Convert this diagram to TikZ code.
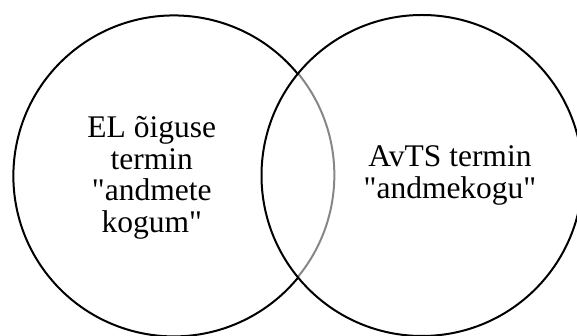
\documentclass[tikz,border=0pt]{standalone}
\usepackage{fontspec}
\setmainfont{Liberation Serif}
\begin{document}
\begin{tikzpicture}[x=1pt,y=1pt,
  setline/.style={line width=2pt},
  setcircle/.style={circle,inner sep=0pt,outer sep=0pt,minimum size=321pt},
  settext/.style={align=center,anchor=base,inner sep=0pt,font=\fontsize{31.5}{31.7}\selectfont}]
\useasboundingbox (0,0) rectangle (577,336);
% the two sets
\node[setcircle] (eu) at (173.5,160.5) {};
\node[setcircle] (avts) at (422,160.5) {};
% part of the first set lying inside the second one
\draw[setline,draw=black!47] (eu.-39.2) arc[start angle=-39.2,end angle=39.2,radius=160.5];
\draw[setline] (eu.39.2) arc[start angle=39.2,end angle=320.8,radius=160.5];
\draw[setline] (avts) circle[radius=160.5];
% labels (base anchor sits on the last line)
\node[settext] (eutext) at (151.7,103.3)
  {EL õiguse\\termin\\\textquotedbl andmete\\kogum\textquotedbl};
\node[settext] (avtstext) at (450,137.7)
  {AvTS termin\\\textquotedbl andmekogu\textquotedbl};
\end{tikzpicture}
\end{document}
